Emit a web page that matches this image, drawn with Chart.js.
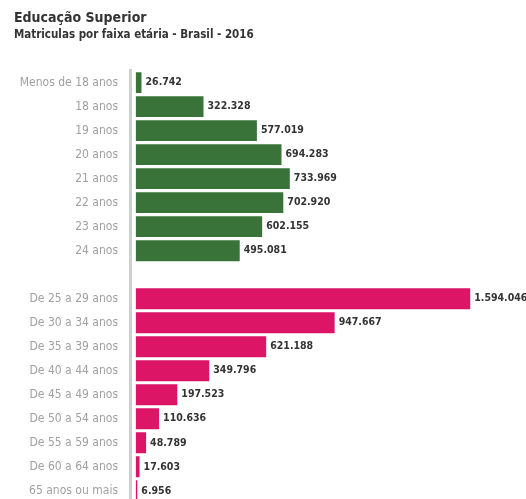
<!DOCTYPE html>
<html lang="pt-BR">
<head>
    <meta charset="UTF-8">
    <script src="https://cdn.jsdelivr.net/npm/chart.js"></script>
    <title>Educação Superior</title>
    <style>
        html, body { margin: 0; padding: 0; background: #fff; overflow: hidden; }
        .box { width: 526px; height: 514px; }
    </style>
</head>
<body>
    <div class="box">
        <canvas id="grafico"></canvas>
    </div>

<script>
    // dados
    var faixasJovens = ['Menos de 18 anos', '18 anos', '19 anos', '20 anos', '21 anos', '22 anos', '23 anos', '24 anos'];
    var matriculasJovens = [26742, 322328, 577019, 694283, 733969, 702920, 602155, 495081];

    var faixasAdultos = ['De 25 a 29 anos', 'De 30 a 34 anos', 'De 35 a 39 anos', 'De 40 a 44 anos', 'De 45 a 49 anos',
        'De 50 a 54 anos', 'De 55 a 59 anos', 'De 60 a 64 anos', '65 anos ou mais'];
    var matriculasAdultos = [1594046, 947667, 621188, 349796, 197523, 110636, 48789, 17603, 6956];

    var verde = '#3a7339';
    var rosa = '#dc1567';
    var fonte = "'DejaVu Sans Condensed', 'Liberation Sans Narrow', sans-serif";

    // uma linha vazia separa os dois grupos
    var labels = faixasJovens.concat([''], faixasAdultos);
    var valores = matriculasJovens.concat([null], matriculasAdultos);
    var cores = faixasJovens.map(() => verde).concat([verde], faixasAdultos.map(() => rosa));

    function formatar(n) {
        return String(n).replace(/\B(?=(\d{3})+(?!\d))/g, '.');
    }

    const rotulos = {
        id: 'rotulos',
        afterDatasetsDraw(chart) {
            const ctx = chart.ctx;
            const meta = chart.getDatasetMeta(0);
            ctx.save();
            ctx.font = 'bold 10.5px ' + fonte;
            ctx.fillStyle = '#333';
            ctx.textAlign = 'left';
            ctx.textBaseline = 'middle';
            meta.data.forEach(function (bar, i) {
                if (valores[i] == null) return;
                ctx.fillText(formatar(valores[i]), bar.x + 4, bar.y);
            });
            ctx.restore();
        }
    };

    new Chart(document.getElementById('grafico'), {
        type: 'bar',
        data: {
            labels: labels,
            datasets: [{
                data: valores,
                backgroundColor: cores,
                borderWidth: 0,
                barPercentage: 0.87,
                categoryPercentage: 1
            }]
        },
        plugins: [rotulos],
        options: {
            indexAxis: 'y',
            responsive: true,
            maintainAspectRatio: false,
            animation: false,
            layout: { padding: { left: 14, right: 0, top: 0, bottom: 0 } },
            plugins: {
                legend: { display: false },
                tooltip: { enabled: false },
                title: {
                    display: true,
                    text: 'Educação Superior',
                    align: 'start',
                    color: '#333',
                    font: { family: fonte, size: 14, weight: 'bold' },
                    padding: { top: 10, bottom: 1 }
                },
                subtitle: {
                    display: true,
                    text: 'Matriculas por faixa etária - Brasil - 2016',
                    align: 'start',
                    color: '#333',
                    font: { family: fonte, size: 11.5, weight: 'bold' },
                    padding: { top: 0, bottom: 29 }
                }
            },
            scales: {
                x: {
                    display: false,
                    min: -28000,
                    max: 1860000
                },
                y: {
                    afterFit: function (scale) { scale.width = 116; },
                    grid: { display: false },
                    border: { display: true, color: '#cfcfcf', width: 3 },
                    ticks: {
                        color: '#a0a0a0',
                        padding: 4,
                        font: { family: fonte, size: 12 }
                    }
                }
            }
        }
    });
</script>
</body>
</html>
